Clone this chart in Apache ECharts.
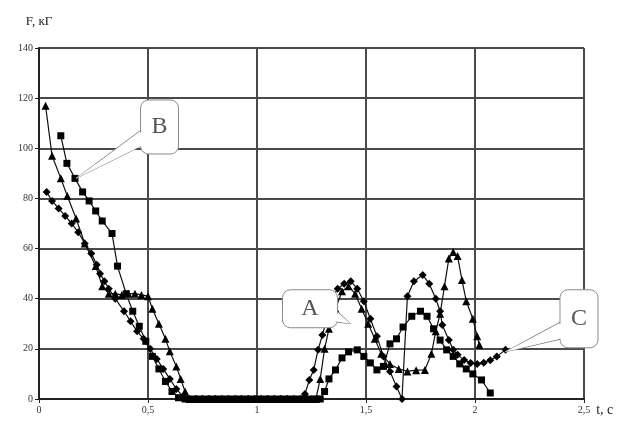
<!DOCTYPE html>
<html>
<head>
<meta charset="utf-8">
<script src="https://cdn.jsdelivr.net/npm/echarts@6/dist/echarts.min.js"></script>
<style>
  html, body { margin: 0; padding: 0; background: #fff; }
  #chart { width: 626px; height: 423px; }
</style>
</head>
<body>
<div id="chart"></div>
<script>
// series A - triangles
var tA = [0.03,0.06,0.10,0.13,0.17,0.21,0.26,0.29,0.32,0.35,0.38,0.41,0.44,0.47,0.50,0.52,0.55,0.58,0.60,0.63,0.65,0.67,0.69,
  0.72,0.75,0.78,0.81,0.84,0.87,0.90,0.93,0.96,0.99,1.02,1.05,1.08,1.11,1.14,1.17,1.20,1.23,1.25,1.27,
  1.29,1.31,1.33,1.36,1.39,1.42,1.45,1.48,1.51,1.54,1.57,1.61,1.65,1.69,1.73,1.77,1.80,1.82,1.84,1.86,1.88,1.90,1.92,1.94,1.96,1.99,2.01,2.02];
var fA = [117,97,88,81,72,62,53,45,42,42,41.5,42,42,41.5,41,36,30,24,19,13,8,3,0,
  0,0,0,0,0,0,0,0,0,0,0,0,0,0,0,0,0,0,0,0,
  8,20,28,36,43,45,42,36,30,24,18,14,12,11,11.5,11.6,18,27,34,45,56,58.6,57,47.5,39,32,25,21.5];

// series B - squares
var tB = [0.10,0.128,0.165,0.20,0.23,0.26,0.29,0.335,0.36,0.40,0.43,0.46,0.49,0.52,0.55,0.58,0.61,0.64,0.67,
  0.70,0.73,0.76,0.79,0.82,0.85,0.88,0.91,0.94,0.97,1.00,1.03,1.06,1.09,1.12,1.15,1.18,1.21,1.24,1.27,1.29,
  1.31,1.33,1.36,1.39,1.42,1.46,1.49,1.52,1.55,1.58,1.61,1.64,1.67,1.71,1.75,1.78,1.81,1.84,1.87,1.90,1.93,1.96,1.99,2.03,2.07];
var fB = [105,94,88,82.6,79,75,71,66,53,42,35,29,23,17,12,7,3,0.5,0,
  0,0,0,0,0,0,0,0,0,0,0,0,0,0,0,0,0,0,0,0,0,
  3,8,11.6,16.4,18.8,19.6,17,14.4,11.6,13,22,24,28.7,33,35,33,28,23.5,19.6,17,14,12,10,7.6,2.4];

// series C - diamonds
var tC = [0.035,0.06,0.09,0.12,0.15,0.18,0.21,0.24,0.265,0.28,0.30,0.32,0.35,0.39,0.42,0.45,0.48,0.51,0.54,0.57,0.60,0.63,0.66,0.69,
  0.72,0.75,0.78,0.81,0.84,0.87,0.90,0.93,0.96,0.99,1.02,1.05,1.08,1.11,1.14,1.17,1.20,
  1.22,1.24,1.26,1.28,1.30,1.33,1.35,1.37,1.40,1.43,1.46,1.49,1.52,1.55,1.58,1.61,1.64,1.665,1.69,1.72,1.76,1.79,1.82,1.84,1.85,1.88,1.90,1.92,1.95,1.98,2.01,2.04,2.07,2.10,2.14];
var fC = [82.6,79,76,73,70,66.5,62,58,53.5,50,47,44,40,35,31,27,24,20,16,12,8,4,1,0,
  0,0,0,0,0,0,0,0,0,0,0,0,0,0,0,0,0,
  2,7.6,11.6,19.6,25.5,35,41,44,46,47,44,39,32,25,17,11,5,0,41,47,49.5,46,40,35,29.5,23.5,19.6,17.6,15.6,14.4,14,14.5,15.5,17,19.6];

// callouts: label, box centre [t, F], tip [t, F], box size px
var callouts = [
  { text: "B", box: [0.553, 108.5], tip: [0.17, 88], w: 38, h: 54, side: "left" },
  { text: "A", box: [1.243, 36], tip: [1.43, 30], w: 55, h: 38, side: "right" },
  { text: "C", box: [2.477, 32], tip: [2.138, 18.8], w: 38, h: 58, side: "left" }
];

function zip(t, f) {
  return t.map(function (v, i) { return [v, f[i]]; });
}

var chart = echarts.init(document.getElementById("chart"));

var lineBase = {
  type: "line",
  color: "#000",
  lineStyle: { color: "#111", width: 1.2 },
  itemStyle: { color: "#000" },
  animation: false,
  z: 3
};

var option = {
  backgroundColor: "#fff",
  animation: false,
  grid: { left: 39, right: 42, top: 48, bottom: 24 },
  xAxis: {
    type: "value",
    min: 0,
    max: 2.5,
    interval: 0.5,
    name: "t, c",
    nameLocation: "end",
    nameGap: 10,
    nameTextStyle: { fontFamily: "Liberation Serif", fontSize: 14, color: "#222", verticalAlign: "top", padding: [4, 0, 0, 0] },
    axisLine: { lineStyle: { color: "#222", width: 2 } },
    axisTick: { show: true, length: 4, lineStyle: { color: "#222" } },
    axisLabel: {
      fontFamily: "Liberation Serif", fontSize: 10, color: "#333", margin: 6,
      formatter: function (v) { return String(v).replace(".", ","); }
    },
    splitLine: { show: true, lineStyle: { color: "#4a4a4a", width: 2 } }
  },
  yAxis: {
    type: "value",
    min: 0,
    max: 140,
    interval: 20,
    name: "F, кГ",
    nameLocation: "end",
    nameGap: 20,
    nameTextStyle: { fontFamily: "Liberation Serif", fontSize: 13, color: "#222", align: "center", padding: [0, 0, 0, 0] },
    axisLine: { show: true, lineStyle: { color: "#222", width: 2 } },
    axisTick: { show: true, length: 4, lineStyle: { color: "#222" } },
    axisLabel: { fontFamily: "Liberation Serif", fontSize: 10, color: "#333", margin: 6 },
    splitLine: { show: true, lineStyle: { color: "#4a4a4a", width: 2 } }
  },
  series: [
    Object.assign({}, lineBase, { name: "A", data: zip(tA, fA), symbol: "triangle", symbolSize: 8 }),
    Object.assign({}, lineBase, { name: "B", data: zip(tB, fB), symbol: "rect", symbolSize: 7 }),
    Object.assign({}, lineBase, { name: "C", data: zip(tC, fC), symbol: "diamond", symbolSize: 8 })
  ]
};

chart.setOption(option);

// draw callout boxes anchored to data coordinates
function buildCallouts() {
  var els = [];
  callouts.forEach(function (c) {
    var p = chart.convertToPixel({ gridIndex: 0 }, c.box);
    var tip = chart.convertToPixel({ gridIndex: 0 }, c.tip);
    var x0 = p[0] - c.w / 2, y0 = p[1] - c.h / 2;
    var bx = c.side === "left" ? x0 + 1 : x0 + c.w - 1;
    var b1 = [bx, y0 + c.h * 0.55];
    var b2 = [bx, y0 + c.h * 0.85];
    var style = { fill: "#fff", stroke: "#8a8a8a", lineWidth: 1 };
    els.push({ type: "polygon", shape: { points: [b1, tip, b2] }, style: style, z: 10 });
    els.push({ type: "rect", shape: { x: x0, y: y0, width: c.w, height: c.h, r: 8 }, style: style, z: 11 });
    els.push({ type: "polygon", shape: { points: [[bx + (c.side === "left" ? 1.5 : -1.5), b1[1] + 1], tip, [bx + (c.side === "left" ? 1.5 : -1.5), b2[1] - 1]] },
      style: { fill: "#fff", stroke: null }, z: 12 });
    els.push({ type: "text", x: p[0], y: p[1], style: { text: c.text, fontFamily: "Liberation Serif", fontSize: 24, fill: "#555", align: "center", verticalAlign: "middle" }, z: 13 });
  });
  chart.setOption({ graphic: els });
}
buildCallouts();
</script>
</body>
</html>
